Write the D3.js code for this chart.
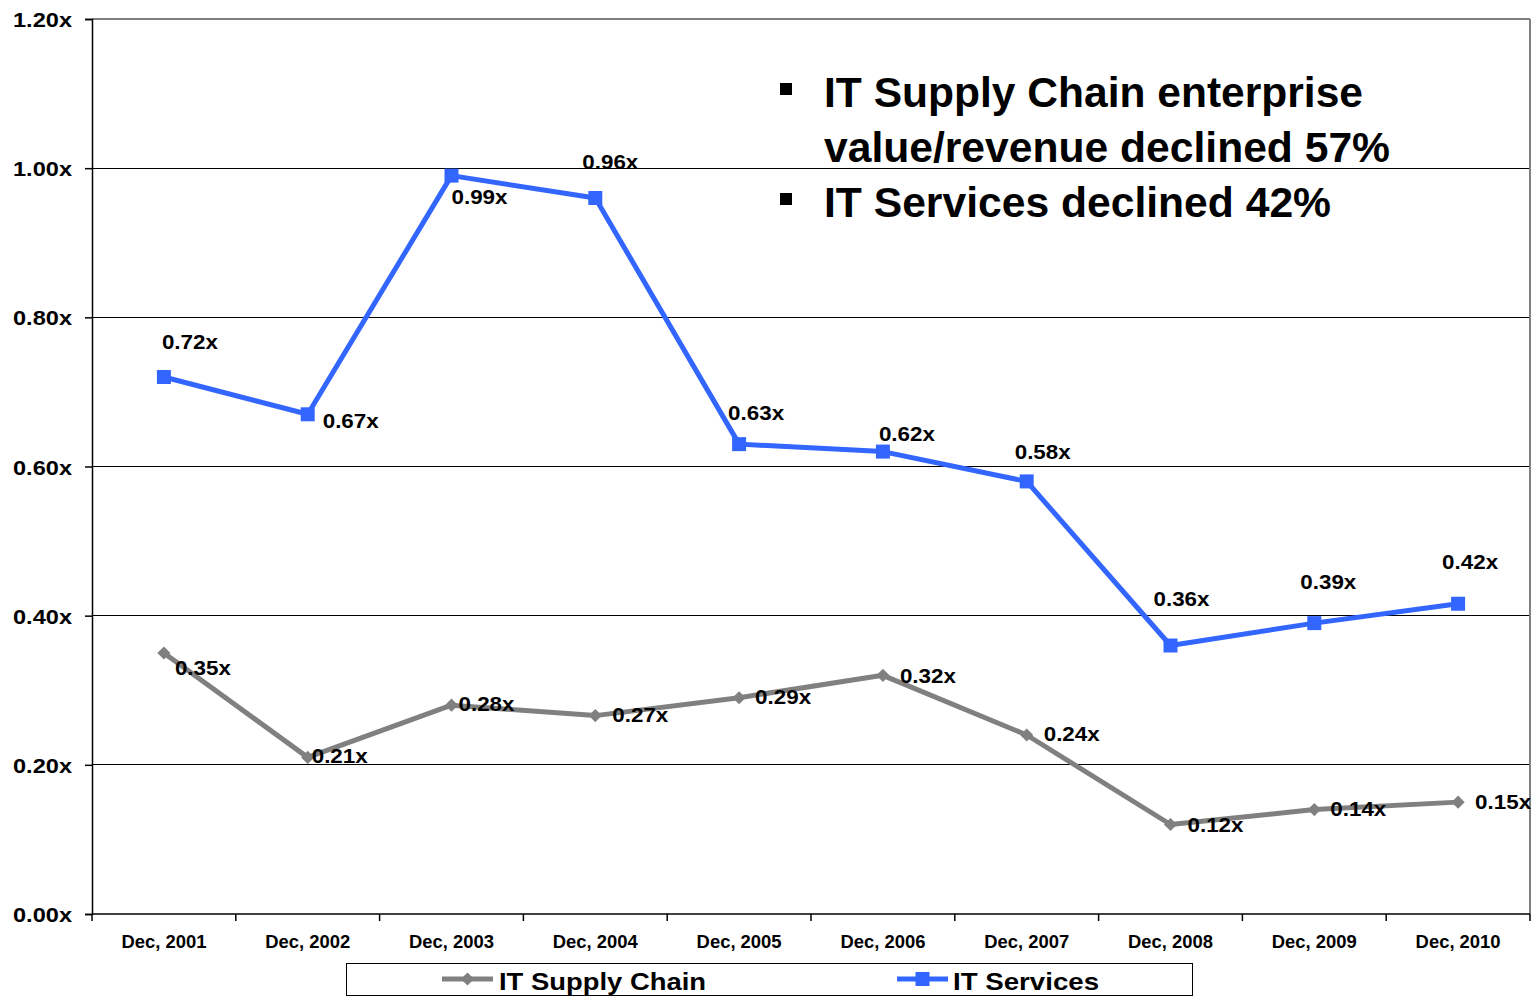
<!DOCTYPE html>
<html>
<head>
<meta charset="utf-8">
<script src="https://cdn.jsdelivr.net/npm/d3@7"></script>
<style>
  html, body { margin: 0; padding: 0; background: #fff; }
  svg { display: block; }
  text { font-family: "Liberation Sans", Arial, Helvetica, sans-serif; font-weight: bold; fill: #000; }
</style>
</head>
<body>
<svg id="chart" width="1539" height="997"></svg>
<script>
// Periods on the x axis
const periods = ["Dec, 2001", "Dec, 2002", "Dec, 2003", "Dec, 2004", "Dec, 2005",
                 "Dec, 2006", "Dec, 2007", "Dec, 2008", "Dec, 2009", "Dec, 2010"];

// Enterprise value / revenue multiples
const itServices    = [0.72, 0.67, 0.99, 0.96, 0.63, 0.62, 0.58, 0.36, 0.39, 0.416];
const itSupplyChain = [0.35, 0.21, 0.28, 0.266, 0.29, 0.32, 0.24, 0.12, 0.14, 0.15];

// Y axis ticks
const yTicks = [0, 0.2, 0.4, 0.6, 0.8, 1.0, 1.2];

// Legend names
const seriesNames = ["IT Supply Chain", "IT Services"];

// Commentary bullets
const bulletLines = [
  { text: "IT Supply Chain enterprise", bullet: true },
  { text: "value/revenue declined 57%", bullet: false },
  { text: "IT Services declined 42%", bullet: true }
];

// Label nudges (start x, baseline) relative to each marker
const servicesLabelNudge = [[-2, -28], [15, 14], [0, 28], [-13, -29], [-11, -24],
                            [-4, -11], [-12, -22], [-17, -40], [-14, -34], [-16, -35]];
const supplyLabelNudge   = [[11, 22], [4, 6], [7, 6], [17, 6], [16, 6],
                            [17, 8], [17, 6], [17, 7], [16, 6], [17, 7]];

const BLUE = "#3366FF";
const GRAY = "#808080";

const svg = d3.select("#chart");
const plot = { left: 92, right: 1530, top: 19, bottom: 914 };

const x = d3.scaleBand().domain(periods).range([plot.left, plot.right]).padding(0);
const cx = d => x(d) + x.bandwidth() / 2;
const y = d3.scaleLinear().domain([0, 1.2]).range([plot.bottom, plot.top]);

const fmt = d3.format(".2f");

function fitWidth(sel, w) {
  sel.attr("textLength", w).attr("lengthAdjust", "spacingAndGlyphs");
}

// Horizontal gridlines
svg.append("g")
  .selectAll("line")
  .data(yTicks.filter(t => t > 0 && t < 1.2))
  .join("line")
  .attr("x1", plot.left).attr("x2", plot.right)
  .attr("y1", d => y(d)).attr("y2", d => y(d))
  .attr("stroke", "#000").attr("stroke-width", 1)
  .attr("shape-rendering", "crispEdges");

// Plot area frame: top and right edges
svg.append("line")
  .attr("x1", plot.left).attr("x2", plot.right)
  .attr("y1", y(1.2)).attr("y2", y(1.2))
  .attr("stroke", GRAY).attr("stroke-width", 2);
svg.append("line")
  .attr("x1", plot.right).attr("x2", plot.right)
  .attr("y1", plot.top).attr("y2", plot.bottom)
  .attr("stroke", GRAY).attr("stroke-width", 2);

// Y axis
const yAxis = svg.append("g")
  .attr("transform", `translate(${plot.left},0)`)
  .call(d3.axisLeft(y).tickValues(yTicks).tickSize(7).tickPadding(0).tickFormat(d => fmt(d) + "x"));
yAxis.select(".domain").attr("stroke", "#000").attr("stroke-width", 1.5);
yAxis.selectAll(".tick line").attr("stroke", "#000").attr("stroke-width", 1.5);
yAxis.selectAll(".tick text")
  .attr("x", -20).attr("dy", "0.36em")
  .style("font-size", "21px").attr("font-family", null)
  .call(fitWidth, 59);

// X axis: ticks on category boundaries, labels centred under each category
svg.append("line")
  .attr("x1", plot.left).attr("x2", plot.right)
  .attr("y1", plot.bottom).attr("y2", plot.bottom)
  .attr("stroke", "#000").attr("stroke-width", 1.5);
const boundaries = periods.map(p => x(p)).concat([x(periods[periods.length - 1]) + x.bandwidth()]);
svg.append("g").selectAll("line")
  .data(boundaries)
  .join("line")
  .attr("x1", d => d).attr("x2", d => d)
  .attr("y1", plot.bottom).attr("y2", plot.bottom + 7)
  .attr("stroke", "#000").attr("stroke-width", 1.5);
svg.append("g").selectAll("text")
  .data(periods)
  .join("text")
  .attr("x", d => cx(d))
  .attr("y", 948)
  .attr("text-anchor", "middle")
  .style("font-size", "18.5px")
  .text(d => d)
  .call(fitWidth, 85);

// Series lines
const line = d3.line().x(d => cx(d.p)).y(d => y(d.v));
const servicesPts = periods.map((p, i) => ({ p, v: itServices[i] }));
const supplyPts   = periods.map((p, i) => ({ p, v: itSupplyChain[i] }));

svg.append("path").datum(supplyPts)
  .attr("d", line).attr("fill", "none")
  .attr("stroke", GRAY).attr("stroke-width", 5).attr("stroke-linejoin", "round");
svg.append("path").datum(servicesPts)
  .attr("d", line).attr("fill", "none")
  .attr("stroke", BLUE).attr("stroke-width", 5).attr("stroke-linejoin", "round");

// Markers
const diamond = d3.symbol().type(d3.symbolDiamond2).size(110);
svg.append("g").selectAll("path")
  .data(supplyPts)
  .join("path")
  .attr("d", diamond)
  .attr("transform", d => `translate(${cx(d.p)},${y(d.v)})`)
  .attr("fill", GRAY);
svg.append("g").selectAll("rect")
  .data(servicesPts)
  .join("rect")
  .attr("x", d => cx(d.p) - 7).attr("y", d => y(d.v) - 7)
  .attr("width", 14).attr("height", 14)
  .attr("fill", BLUE);

// Data labels
svg.append("g").selectAll("text")
  .data(supplyPts)
  .join("text")
  .attr("x", (d, i) => cx(d.p) + supplyLabelNudge[i][0])
  .attr("y", (d, i) => y(d.v) + supplyLabelNudge[i][1])
  .style("font-size", "20.5px")
  .text(d => fmt(d.v) + "x")
  .call(fitWidth, 56);
svg.append("g").selectAll("text")
  .data(servicesPts)
  .join("text")
  .attr("x", (d, i) => cx(d.p) + servicesLabelNudge[i][0])
  .attr("y", (d, i) => y(d.v) + servicesLabelNudge[i][1])
  .style("font-size", "20.5px")
  .text(d => fmt(d.v) + "x")
  .call(fitWidth, 56);

// Commentary
const noteWidths = [539, 566, 507];
const noteBaselines = [107, 162, 217];
const notes = svg.append("g");
bulletLines.forEach((ln, i) => {
  if (ln.bullet) {
    notes.append("rect")
      .attr("x", 780).attr("y", noteBaselines[i] - 24)
      .attr("width", 12).attr("height", 12)
      .attr("fill", "#000");
  }
  notes.append("text")
    .attr("x", 824).attr("y", noteBaselines[i])
    .style("font-size", "43px")
    .text(ln.text)
    .call(fitWidth, noteWidths[i]);
});

// Legend
const legend = svg.append("g");
legend.append("rect")
  .attr("x", 346.5).attr("y", 963.5)
  .attr("width", 846).attr("height", 32)
  .attr("fill", "#fff").attr("stroke", "#000").attr("stroke-width", 1);

const legendItems = [
  { name: seriesNames[0], color: GRAY, marker: "diamond", x0: 442, tx: 499, tw: 207 },
  { name: seriesNames[1], color: BLUE, marker: "square",  x0: 897, tx: 953, tw: 146 }
];
legendItems.forEach(it => {
  legend.append("line")
    .attr("x1", it.x0).attr("x2", it.x0 + 51)
    .attr("y1", 979).attr("y2", 979)
    .attr("stroke", it.color).attr("stroke-width", 5);
  if (it.marker === "diamond") {
    legend.append("path").attr("d", diamond)
      .attr("transform", `translate(${it.x0 + 25.5},979)`)
      .attr("fill", it.color);
  } else {
    legend.append("rect")
      .attr("x", it.x0 + 25.5 - 7).attr("y", 972)
      .attr("width", 14).attr("height", 14)
      .attr("fill", it.color);
  }
  legend.append("text")
    .attr("x", it.tx).attr("y", 990)
    .style("font-size", "24px")
    .text(it.name)
    .call(fitWidth, it.tw);
});
</script>
</body>
</html>
